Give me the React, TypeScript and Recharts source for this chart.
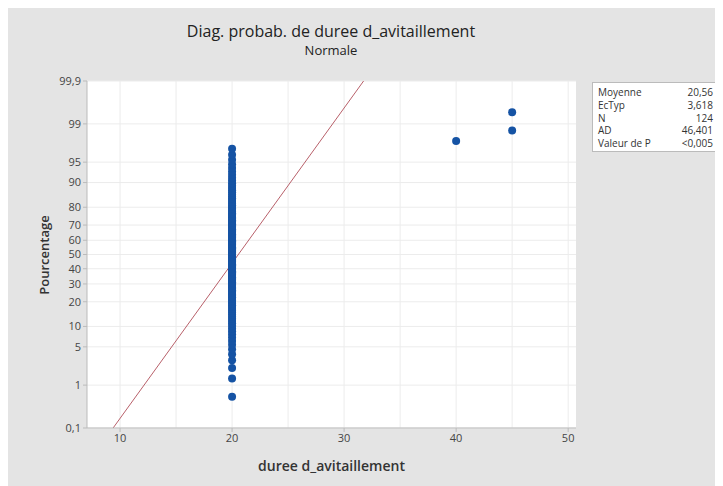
import { ScatterChart, Scatter, XAxis, YAxis, CartesianGrid, ReferenceLine } from 'recharts'

// observed durations (N = 124): value and how many times it occurs
const values = [20, 40, 45]
const counts = [121, 1, 2]

const xTicks = [10, 20, 30, 40, 50]
const xGridTicks = [10, 15, 20, 25, 30, 35, 40, 45, 50]
const yTickPercents = [0.1, 1, 5, 10, 20, 30, 40, 50, 60, 70, 80, 90, 95, 99, 99.9]
const yTickLabels = ['0,1', '1', '5', '10', '20', '30', '40', '50', '60', '70', '80', '90', '95', '99', '99,9']

const statLabels = ['Moyenne', 'EcTyp', 'N', 'AD', 'Valeur de P']
const statValues = ['20,56', '3,618', '124', '46,401', '<0,005']
const mean = 20.56
const stdev = 3.618

const FONT = '"Open Sans", "Noto Sans", sans-serif'

// inverse normal cdf (Acklam)
function probit(p: number) {
  const a = [-39.69683028665376, 220.9460984245205, -275.9285104469687, 138.357751867269, -30.66479806614716, 2.506628277459239]
  const b = [-54.47609879822406, 161.5858368580409, -155.6989798598866, 66.80131188771972, -13.28068155288572]
  const c = [-0.007784894002430293, -0.3223964580411365, -2.400758277161838, -2.549732539343734, 4.374664141464968, 2.938163982698783]
  const d = [0.007784695709041462, 0.3224671290700398, 2.445134137142996, 3.754408661907416]
  const pl = 0.02425
  if (p < pl) {
    const q = Math.sqrt(-2 * Math.log(p))
    return (((((c[0] * q + c[1]) * q + c[2]) * q + c[3]) * q + c[4]) * q + c[5]) / ((((d[0] * q + d[1]) * q + d[2]) * q + d[3]) * q + 1)
  }
  if (p > 1 - pl) {
    const q = Math.sqrt(-2 * Math.log(1 - p))
    return -(((((c[0] * q + c[1]) * q + c[2]) * q + c[3]) * q + c[4]) * q + c[5]) / ((((d[0] * q + d[1]) * q + d[2]) * q + d[3]) * q + 1)
  }
  const q = p - 0.5
  const r = q * q
  return (((((a[0] * r + a[1]) * r + a[2]) * r + a[3]) * r + a[4]) * r + a[5]) * q / (((((b[0] * r + b[1]) * r + b[2]) * r + b[3]) * r + b[4]) * r + 1)
}

// expand sample, median-rank plotting positions (i - 0.3) / (n + 0.4)
const sample: number[] = []
values.forEach((v, i) => { for (let k = 0; k < counts[i]; k++) sample.push(v) })
const n = sample.length
const points = sample.map((v, i) => ({ x: v, z: probit((i + 1 - 0.3) / (n + 0.4)) }))

const yTicks = yTickPercents.map((p) => probit(p / 100))
const zMin = yTicks[0]
const zMax = yTicks[yTicks.length - 1]
const labelFor = (z: number) => yTickLabels[yTicks.findIndex((t) => Math.abs(t - z) < 1e-6)] ?? ''

const tickStyle = { fontSize: 11, fill: '#444', fontFamily: FONT }

export default function App() {
  return (
    <div style={{ position: 'relative', width: 715, height: 478, background: '#e4e4e4', fontFamily: FONT }}>
      <div style={{ position: 'absolute', left: 0, width: 646, top: 13, textAlign: 'center', fontSize: 16, fontWeight: 500, color: '#222', lineHeight: '20px' }}>
        Diag. probab. de duree d_avitaillement
      </div>
      <div style={{ position: 'absolute', left: 0, width: 646, top: 33, textAlign: 'center', fontSize: 13, fontWeight: 500, color: '#222', lineHeight: '18px' }}>
        Normale
      </div>
      <ScatterChart width={715} height={478} margin={{ top: 73, right: 147, left: 0, bottom: 0 }}>
        <CartesianGrid stroke="#ececec" fill="#fff" horizontalValues={yTicks} verticalValues={xGridTicks} />
        <XAxis
          type="number"
          dataKey="x"
          domain={[7.05, 50.7]}
          ticks={xTicks}
          height={58}
          tick={tickStyle}
          tickSize={4}
          stroke="#bbb"
        />
        <YAxis
          type="number"
          dataKey="z"
          domain={[zMin, zMax]}
          ticks={yTicks}
          tickFormatter={labelFor}
          width={79}
          tick={tickStyle}
          tickSize={4}
          tickMargin={2}
          stroke="#bbb"
          interval={0}
        />
        <ReferenceLine
          segment={[{ x: mean + zMin * stdev, y: zMin }, { x: mean + zMax * stdev, y: zMax }]}
          stroke="#b8606a"
          strokeWidth={1}
          ifOverflow="hidden"
        />
        <Scatter
          data={points}
          fill="#1553a4"
          isAnimationActive={false}
          shape={(p: any) => <circle cx={p.cx} cy={p.cy} r={4} fill="#1553a4" />}
        />
      </ScatterChart>
      <div style={{ position: 'absolute', left: 36, top: 247, transform: 'translate(-50%, -50%) rotate(-90deg)', fontSize: 13, fontWeight: 600, color: '#333', whiteSpace: 'nowrap' }}>
        Pourcentage
      </div>
      <div style={{ position: 'absolute', left: 79, width: 489, top: 448, textAlign: 'center', fontSize: 14, fontWeight: 600, color: '#333' }}>
        duree d_avitaillement
      </div>
      <div style={{ position: 'absolute', left: 584, top: 74, width: 127, height: 70, background: '#fff', border: '1px solid #bbb', boxSizing: 'border-box', padding: '3px 5px 0 5px', fontSize: 10, color: '#333' }}>
        {statLabels.map((l, i) => (
          <div key={l} style={{ display: 'flex', justifyContent: 'space-between', lineHeight: '12.8px' }}>
            <span>{l}</span>
            <span>{statValues[i]}</span>
          </div>
        ))}
      </div>
    </div>
  )
}
